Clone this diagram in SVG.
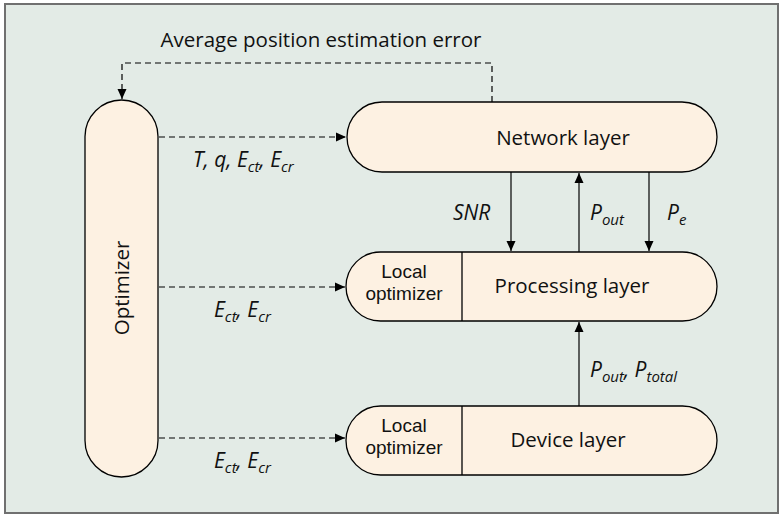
<svg xmlns="http://www.w3.org/2000/svg" width="783" height="516" viewBox="0 0 783 516">
<defs>
<marker id="ah" viewBox="0 0 10 10" refX="10" refY="5" markerWidth="10" markerHeight="10" markerUnits="userSpaceOnUse" orient="auto">
<path d="M0,0.5 L10,5 L0,9.5 Z" fill="#000"/>
</marker>
<style>
.box{fill:#fdf1e2;stroke:#000;stroke-width:1.3}
.t{font-family:"Open Sans","Noto Sans",sans-serif;font-size:20.5px;fill:#111}
.l{font-family:"Liberation Sans",Arial,sans-serif;font-size:19px}
.i{font-family:"Open Sans","Noto Sans",sans-serif;font-size:21px;font-style:italic;fill:#111}
.s{font-size:15px}
.c{fill:none;stroke:#000;stroke-width:1.2}
.d{stroke-dasharray:6,4}
</style>
</defs>
<rect x="5" y="4" width="773" height="509" fill="#e3ebe6" stroke="#707070" stroke-width="2"/>
<text class="t" x="321" y="47" text-anchor="middle">Average position estimation error</text>

<g id="optimizer">
<rect class="box" x="85" y="100" width="73" height="377" rx="36.5"/>
<text class="t" transform="translate(129,288) rotate(-90)" text-anchor="middle">Optimizer</text>
</g>
<g id="network">
<rect class="box" x="347" y="102" width="370" height="70" rx="35"/>
<text class="t" x="563" y="145" text-anchor="middle">Network layer</text>
</g>
<g id="processing">
<rect class="box" x="346" y="252" width="371" height="69" rx="34.5"/>
<line x1="462" y1="252" x2="462" y2="321" stroke="#000" stroke-width="1.3"/>
<text class="t l" text-anchor="middle"><tspan x="404" y="278">Local</tspan><tspan x="404" y="299.5">optimizer</tspan></text>
<text class="t" x="572" y="293" text-anchor="middle">Processing layer</text>
</g>
<g id="device">
<rect class="box" x="346" y="406" width="371" height="69" rx="34.5"/>
<line x1="462" y1="406" x2="462" y2="475" stroke="#000" stroke-width="1.3"/>
<text class="t l" text-anchor="middle"><tspan x="404" y="432">Local</tspan><tspan x="404" y="453.5">optimizer</tspan></text>
<text class="t" x="568" y="447" text-anchor="middle">Device layer</text>
</g>

<g id="connectors">
<path class="c d" d="M492,102 V63 H122 V99" marker-end="url(#ah)"/>
<path class="c d" d="M159,137 H346" marker-end="url(#ah)"/>
<path class="c d" d="M159,287 H345" marker-end="url(#ah)"/>
<path class="c d" d="M159,438 H345" marker-end="url(#ah)"/>
<path class="c" d="M511,172 V251" marker-end="url(#ah)"/>
<path class="c" d="M579,252 V173" marker-end="url(#ah)"/>
<path class="c" d="M649,172 V251" marker-end="url(#ah)"/>
<path class="c" d="M579,406 V322" marker-end="url(#ah)"/>
</g>

<g id="labels">
<text class="i" x="193" y="167">T, q, E<tspan class="s" dy="5">ct</tspan><tspan dy="-5">, E</tspan><tspan class="s" dy="5">cr</tspan></text>
<text class="i" x="214" y="317">E<tspan class="s" dy="5">ct</tspan><tspan dy="-5">, E</tspan><tspan class="s" dy="5">cr</tspan></text>
<text class="i" x="214" y="468">E<tspan class="s" dy="5">ct</tspan><tspan dy="-5">, E</tspan><tspan class="s" dy="5">cr</tspan></text>
<text class="i" x="453" y="220">SNR</text>
<text class="i" x="590" y="220">P<tspan class="s" dy="5">out</tspan></text>
<text class="i" x="667" y="220">P<tspan class="s" dy="5">e</tspan></text>
<text class="i" x="590" y="377">P<tspan class="s" dy="5">out</tspan><tspan dy="-5">, P</tspan><tspan class="s" dy="5">total</tspan></text>
</g>
</svg>
